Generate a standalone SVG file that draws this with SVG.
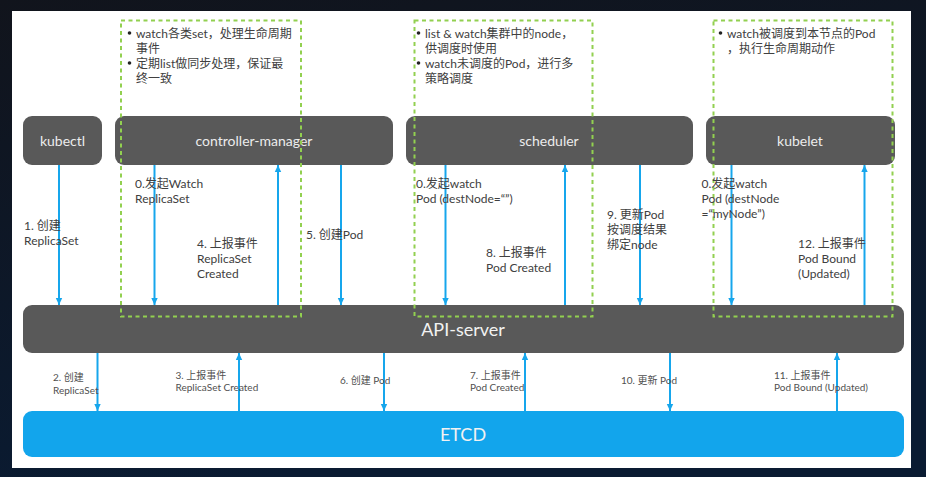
<svg xmlns="http://www.w3.org/2000/svg" width="926" height="477" viewBox="0 0 926 477">
<defs>
<linearGradient id="bg" x1="0" y1="0" x2="0.3" y2="1">
<stop offset="0" stop-color="#11141c"/>
<stop offset="1" stop-color="#0a1b32"/>
</linearGradient>
<marker id="ah" markerUnits="userSpaceOnUse" markerWidth="8" markerHeight="8" refX="7" refY="4" orient="auto">
<path d="M0,0.8 L7,4 L0,7.2 z" fill="#16a6ec"/>
</marker>
<style>
.node{fill:#595959}
.nl{font-family:"Lato","Noto Sans CJK SC",sans-serif;font-size:14px;fill:#ececec;text-anchor:middle}
.big{font-family:"Lato","Noto Sans CJK SC",sans-serif;font-size:18px;fill:#f2f2f2;text-anchor:middle}
.dash{fill:none;stroke:#92d050;stroke-width:2;stroke-dasharray:4 3.5}
.ar{stroke:#16a6ec;stroke-width:2;fill:none;marker-end:url(#ah)}
.lb{font-family:"Lato","Noto Sans CJK SC",sans-serif;font-size:12px;fill:#404040}
.sl{font-family:"Lato","Noto Sans CJK SC",sans-serif;font-size:10px;fill:#505050}
.tx{font-family:"Lato","Noto Sans CJK SC",sans-serif;font-size:12px;fill:#404040}
</style>
</defs>
<rect x="0" y="0" width="926" height="477" fill="url(#bg)"/>
<rect x="12" y="11" width="899" height="457" fill="#ffffff"/>

<g id="kubectl"><rect class="node" x="23" y="116" width="79" height="49" rx="9"/><text class="nl" x="62.5" y="146">kubectl</text></g>
<g id="controller-manager"><rect class="node" x="115" y="116" width="278" height="49" rx="9"/><text class="nl" x="254" y="146">controller-manager</text></g>
<g id="scheduler"><rect class="node" x="406" y="116" width="287" height="49" rx="9"/><text class="nl" x="549" y="146">scheduler</text></g>
<g id="kubelet"><rect class="node" x="706" y="116" width="189" height="49" rx="9"/><text class="nl" x="800" y="146">kubelet</text></g>
<g id="api-server"><rect class="node" x="23" y="305" width="881" height="48" rx="9"/><text class="big" x="463" y="336">API-server</text></g>
<g id="etcd"><rect x="23" y="411" width="881" height="46" rx="9" fill="#12a5ec"/><text class="big" x="463" y="441" fill="#ffffff">ETCD</text></g>

<g id="note-controller">
<rect class="dash" x="121" y="20.5" width="180" height="296"/>
<circle cx="129.5" cy="33" r="1.8" fill="#222"/>
<circle cx="129.5" cy="63" r="1.8" fill="#222"/>
<text class="tx"><tspan x="136" y="37.5">watch各类set，处理生命周期</tspan><tspan x="136" y="52.5">事件</tspan><tspan x="136" y="67.5">定期list做同步处理，保证最</tspan><tspan x="136" y="82.5">终一致</tspan></text>
</g>
<g id="note-scheduler">
<rect class="dash" x="414.5" y="20.5" width="178" height="296"/>
<circle cx="418.5" cy="33" r="1.8" fill="#222"/>
<circle cx="418.5" cy="63" r="1.8" fill="#222"/>
<text class="tx"><tspan x="425" y="37.5">list &amp; watch集群中的node，</tspan><tspan x="425" y="52.5">供调度时使用</tspan><tspan x="425" y="67.5">watch未调度的Pod，进行多</tspan><tspan x="425" y="82.5">策略调度</tspan></text>
</g>
<g id="note-kubelet">
<rect class="dash" x="713.5" y="20.5" width="179" height="296"/>
<circle cx="720.5" cy="33" r="1.8" fill="#222"/>
<text class="tx"><tspan x="727" y="37.5">watch被调度到本节点的Pod</tspan><tspan x="727" y="52.5">，执行生命周期动作</tspan></text>
</g>

<g id="connectors">
<line class="ar" x1="59" y1="165" x2="59" y2="305"/>
<line class="ar" x1="154.5" y1="165" x2="154.5" y2="305"/>
<line class="ar" x1="278" y1="305" x2="278" y2="165"/>
<line class="ar" x1="341" y1="165" x2="341" y2="305"/>
<line class="ar" x1="445.5" y1="165" x2="445.5" y2="305"/>
<line class="ar" x1="565" y1="305" x2="565" y2="165"/>
<line class="ar" x1="640" y1="165" x2="640" y2="305"/>
<line class="ar" x1="731.5" y1="165" x2="731.5" y2="305"/>
<line class="ar" x1="864.5" y1="305" x2="864.5" y2="165"/>
<line class="ar" x1="97.5" y1="353" x2="97.5" y2="411"/>
<line class="ar" x1="239" y1="411" x2="239" y2="353"/>
<line class="ar" x1="384" y1="353" x2="384" y2="411"/>
<line class="ar" x1="525" y1="411" x2="525" y2="353"/>
<line class="ar" x1="670" y1="353" x2="670" y2="411"/>
<line class="ar" x1="837" y1="411" x2="837" y2="353"/>

<text class="lb"><tspan x="24" y="230">1. 创建</tspan><tspan x="24" y="245">ReplicaSet</tspan></text>
<text class="lb"><tspan x="135" y="187.5">0.发起Watch</tspan><tspan x="135" y="202.5">ReplicaSet</tspan></text>
<text class="lb"><tspan x="197" y="248">4. 上报事件</tspan><tspan x="197" y="263">ReplicaSet</tspan><tspan x="197" y="278">Created</tspan></text>
<text class="lb" x="306" y="238.5">5. 创建Pod</text>
<text class="lb"><tspan x="416" y="187.5">0.发起watch</tspan><tspan x="416" y="202.5">Pod (destNode=“”)</tspan></text>
<text class="lb"><tspan x="486" y="256.5">8. 上报事件</tspan><tspan x="486" y="271.5">Pod Created</tspan></text>
<text class="lb"><tspan x="607" y="218.5">9. 更新Pod</tspan><tspan x="607" y="233.5">按调度结果</tspan><tspan x="607" y="248.5">绑定node</tspan></text>
<text class="lb"><tspan x="701.5" y="187.5">0.发起watch</tspan><tspan x="701.5" y="202.5">Pod (destNode</tspan><tspan x="701.5" y="217.5">=“myNode”)</tspan></text>
<text class="lb"><tspan x="798" y="248">12. 上报事件</tspan><tspan x="798" y="263">Pod Bound</tspan><tspan x="798" y="278">(Updated)</tspan></text>

<text class="sl"><tspan x="53" y="381">2. 创建</tspan><tspan x="53" y="393.5">ReplicaSet</tspan></text>
<text class="sl"><tspan x="175.5" y="378.5">3. 上报事件</tspan><tspan x="175.5" y="391">ReplicaSet Created</tspan></text>
<text class="sl" x="340" y="384">6. 创建 Pod</text>
<text class="sl"><tspan x="470" y="378.5">7. 上报事件</tspan><tspan x="470" y="391">Pod Created</tspan></text>
<text class="sl" x="621" y="384">10. 更新 Pod</text>
<text class="sl"><tspan x="774" y="378.5">11. 上报事件</tspan><tspan x="774" y="391">Pod Bound (Updated)</tspan></text>
</g>
</svg>
